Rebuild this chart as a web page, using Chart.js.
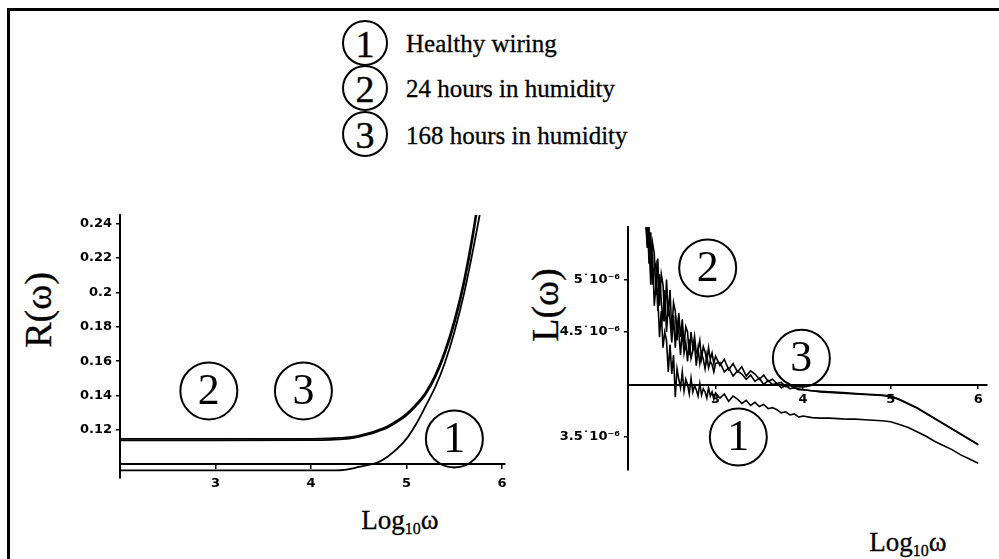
<!DOCTYPE html>
<html><head><meta charset="utf-8">
<script src="https://cdn.jsdelivr.net/npm/chart.js@4"></script>
<style>
html,body{margin:0;padding:0;background:#fff;}
body{width:999px;height:559px;position:relative;overflow:hidden;font-family:"Liberation Serif",serif;color:#000;}
.frame{position:absolute;left:7px;top:8px;width:1000px;height:600px;border-left:3px solid #000;border-top:3px solid #000;}
.lc{position:absolute;width:42px;height:42px;border:2px solid #000;border-radius:50%;text-align:center;line-height:44px;font-size:38px;-webkit-text-stroke:0.4px #000;}
.lt{position:absolute;font-size:25px;line-height:1;transform:translateY(-50%);white-space:nowrap;-webkit-text-stroke:0.3px #000;}
.yt{position:absolute;font-size:38px;line-height:1;transform:translate(-50%,-50%) rotate(-90deg);white-space:nowrap;-webkit-text-stroke:0.3px #000;}
.xt{position:absolute;font-size:27px;line-height:1;transform:translate(-50%,-50%);white-space:nowrap;-webkit-text-stroke:0.3px #000;}
.box{position:absolute;}
sub{font-size:16px;vertical-align:-5px;}
</style></head><body>
<div class="frame"></div>

<div class="lc" style="left:342px;top:20px;">1</div>
<div class="lc" style="left:342px;top:65px;">2</div>
<div class="lc" style="left:342px;top:111px;">3</div>
<div class="lt" style="left:406px;top:43px;">Healthy wiring</div>
<div class="lt" style="left:406px;top:88px;">24 hours in humidity</div>
<div class="lt" style="left:406px;top:135px;">168 hours in humidity</div>

<div class="yt" style="left:38px;top:310px;">R(ω)</div>
<div class="yt" style="left:545px;top:305px;">L(ω)</div>
<div class="xt" style="left:400px;top:522px;">Log<sub>10</sub>ω</div>
<div class="xt" style="left:908px;top:544px;">Log<sub>10</sub>ω</div>

<div class="box" style="left:0px;top:200px;width:520px;height:300px;"><canvas id="cR" width="520" height="300"></canvas></div>
<div class="box" style="left:520px;top:200px;width:479px;height:300px;"><canvas id="cL" width="479" height="300"></canvas></div>

<script>
// ---------- R(ω) panel data ----------
const RX = [2.0, 3.0, 4.0, 4.2, 4.3, 4.4, 4.5, 4.6, 4.7, 4.8, 4.9, 5.0, 5.1, 5.2, 5.3, 5.4, 5.5, 5.6, 5.7, 5.8, 5.9];
const R1 = [0.0965, 0.0965, 0.0965, 0.0965, 0.0966, 0.0972, 0.0985, 0.0997, 0.1012, 0.1045, 0.1090, 0.1150, 0.1235, 0.1340, 0.1450, 0.1590, 0.1770, 0.1990, 0.2260, 0.2560, 0.2900];
const R2 = [0.1148, 0.1148, 0.1149, 0.1151, 0.1154, 0.1158, 0.1168, 0.1182, 0.1200, 0.1222, 0.1255, 0.1295, 0.1350, 0.1420, 0.1520, 0.1660, 0.1840, 0.2070, 0.2370, 0.2750, 0.3200];
const R3 = [0.1140, 0.1140, 0.1141, 0.1143, 0.1146, 0.1150, 0.1160, 0.1174, 0.1192, 0.1214, 0.1246, 0.1286, 0.1340, 0.1408, 0.1506, 0.1642, 0.1818, 0.2044, 0.2340, 0.2720, 0.3160];
const R_XTICKS = [3, 4, 5, 6];
const R_YTICKS = [0.12, 0.14, 0.16, 0.18, 0.2, 0.22, 0.24];
const R_YLABELS = ['0.12', '0.14', '0.16', '0.18', '0.2', '0.22', '0.24'];

// ---------- L(ω) panel data (values in units of 10^-6) ----------
const LX = [2.20,2.22,2.24,2.26,2.28,2.30,2.32,2.34,2.36,2.38,2.40,2.42,2.44,2.46,2.48,2.50,2.52,2.54,2.56,2.58,2.60,2.62,2.64,2.66,2.68,2.70,2.72,2.74,2.76,2.78,2.80,2.82,2.84,2.86,2.88,2.90,2.92,2.94,2.96,2.98,3.00,
  3.05,3.10,3.15,3.20,3.25,3.30,3.35,3.40,3.45,3.50,3.55,3.60,3.65,3.70,3.75,3.80,3.85,3.90,3.95,4.00,
  4.1,4.2,4.3,4.4,4.5,4.6,4.7,4.8,4.9,5.0,5.1,5.2,5.3,5.4,5.5,5.6,5.7,5.8,5.9,6.0];
const L1 = [5.6,5.35,5.4,4.95,5.25,4.75,4.95,4.85,4.45,4.7,4.35,4.5,4.42,4.12,4.38,4.1,4.28,3.88,4.15,4.05,3.97,4.12,3.94,4.05,4.0,3.91,4.06,3.93,3.99,3.95,3.89,4.01,3.9,3.96,3.93,3.87,3.97,3.89,3.93,3.86,3.92,
  3.87,3.91,3.84,3.89,3.86,3.82,3.85,3.8,3.83,3.79,3.81,3.77,3.78,3.76,3.73,3.74,3.71,3.72,3.69,3.7,
  3.685,3.68,3.68,3.675,3.67,3.67,3.665,3.66,3.655,3.645,3.62,3.59,3.55,3.51,3.46,3.42,3.38,3.33,3.29,3.25];
const L2 = [5.6,5.3,5.5,5.05,5.35,5.25,4.85,5.2,4.75,5.05,4.95,4.6,5.0,4.65,4.9,4.5,4.78,4.7,4.42,4.68,4.45,4.62,4.38,4.55,4.5,4.28,4.5,4.35,4.46,4.3,4.33,4.42,4.25,4.36,4.31,4.22,4.35,4.24,4.3,4.2,4.27,
  4.18,4.24,4.14,4.2,4.12,4.17,4.08,4.13,4.1,4.05,4.09,4.03,4.05,4.01,4.02,3.98,3.99,3.97,3.96,3.95,
  3.94,3.935,3.93,3.925,3.92,3.915,3.91,3.905,3.90,3.89,3.86,3.82,3.78,3.73,3.68,3.63,3.58,3.53,3.48,3.43];
const L3 = [5.5,5.6,5.15,5.45,4.95,5.1,5.15,4.7,5.05,4.8,4.6,4.9,4.5,4.75,4.62,4.4,4.66,4.35,4.6,4.5,4.28,4.52,4.3,4.4,4.22,4.43,4.25,4.32,4.38,4.18,4.34,4.2,4.3,4.24,4.15,4.28,4.16,4.22,4.19,4.12,4.2,
  4.21,4.12,4.16,4.08,4.13,4.1,4.05,4.09,4.03,4.06,4.0,4.04,4.0,4.01,3.97,3.99,3.96,3.97,3.95,3.95,
  3.94,3.93,3.925,3.92,3.915,3.91,3.905,3.9,3.895,3.885,3.855,3.815,3.775,3.725,3.675,3.625,3.575,3.525,3.475,3.425];
const L_XTICKS = [3, 4, 5, 6];
const L_YTICKS = [3.5, 4.5, 5];
const L_YLABELS = ['3.5˙10⁻⁶', '4.5˙10⁻⁶', '5˙10⁻⁶'];

Chart.defaults.font.family = '"DejaVu Sans", sans-serif';
Chart.defaults.color = '#000';

const tickFont = {family: '"DejaVu Sans", sans-serif', size: 13, weight: 'bold'};

const circleMarks = {
  id: 'circleMarks',
  afterDatasetsDraw(chart, args, opts) {
    const ctx = chart.ctx, sx = chart.scales.x, sy = chart.scales.y;
    ctx.save();
    ctx.strokeStyle = '#000';
    ctx.fillStyle = '#000';
    ctx.lineWidth = 2;
    ctx.font = '44px "Liberation Serif", serif';
    ctx.textAlign = 'center';
    ctx.textBaseline = 'middle';
    (opts.marks || []).forEach(m => {
      const px = sx.getPixelForValue(m.x), py = sy.getPixelForValue(m.y);
      ctx.beginPath();
      ctx.arc(px, py, 28.5, 0, Math.PI * 2);
      ctx.stroke();
      ctx.fillText(m.n, px, py + 1);
    });
    ctx.restore();
  }
};

function lineDs(xs, ys, opts) {
  return Object.assign({
    data: xs.map((x, i) => ({x: x, y: ys[i]})),
    borderColor: '#000', borderWidth: 1.8, pointRadius: 0, fill: false, clip: 0
  }, opts || {});
}

// ---------- R(ω) chart ----------
new Chart(document.getElementById('cR'), {
  type: 'line',
  data: {datasets: [
    lineDs(RX, R1, {cubicInterpolationMode: 'monotone'}),
    lineDs(RX, R2, {cubicInterpolationMode: 'monotone'}),
    lineDs(RX, R3, {cubicInterpolationMode: 'monotone'})
  ]},
  options: {
    responsive: false, animation: false, devicePixelRatio: 1,
    layout: {padding: {left: 60, top: 15, right: 15, bottom: 22}},
    plugins: {legend: {display: false}, tooltip: {enabled: false},
      circleMarks: {marks: [{n: '2', x: 2.93, y: 0.1427}, {n: '3', x: 3.92, y: 0.1427}, {n: '1', x: 5.5, y: 0.1148}]}},
    scales: {
      x: {type: 'linear', min: 2, max: 6.03, position: {y: 0.1},
        afterBuildTicks: s => { s.ticks = R_XTICKS.map(v => ({value: v})); },
        ticks: {callback: v => String(v), font: tickFont, color: '#000', padding: 7, maxRotation: 0, autoSkip: false},
        grid: {display: true, drawOnChartArea: false, drawTicks: true, tickLength: 4, color: '#000', lineWidth: 1.5},
        border: {display: true, color: '#000', width: 2}},
      y: {type: 'linear', min: 0.0921, max: 0.245, position: 'left',
        afterFit: s => { s.width = 60; },
        afterBuildTicks: s => { s.ticks = R_YTICKS.map(v => ({value: v})); },
        ticks: {callback: (v, i) => R_YLABELS[i], font: tickFont, color: '#000', padding: 4, autoSkip: false},
        grid: {display: true, drawOnChartArea: false, drawTicks: true, tickLength: 4, color: '#000', lineWidth: 1.5},
        border: {display: true, color: '#000', width: 2}}
    }
  },
  plugins: [circleMarks]
});

// ---------- L(ω) chart ----------
new Chart(document.getElementById('cL'), {
  type: 'line',
  data: {datasets: [
    lineDs(LX, L1, {borderWidth: 1.6}),
    lineDs(LX, L2, {borderWidth: 1.6}),
    lineDs(LX, L3, {borderWidth: 1.6})
  ]},
  options: {
    responsive: false, animation: false, devicePixelRatio: 1,
    layout: {padding: {left: 8, top: 27, right: 12, bottom: 30}},
    plugins: {legend: {display: false}, tooltip: {enabled: false},
      circleMarks: {marks: [{n: '2', x: 2.91, y: 5.11}, {n: '3', x: 3.98, y: 4.25}, {n: '1', x: 3.26, y: 3.5}]}},
    scales: {
      x: {type: 'linear', min: 2, max: 6.1, position: {y: 4},
        afterBuildTicks: s => { s.ticks = L_XTICKS.map(v => ({value: v})); },
        ticks: {callback: v => String(v), font: tickFont, color: '#000', padding: 4, maxRotation: 0, autoSkip: false},
        grid: {display: true, drawOnChartArea: false, drawTicks: true, tickLength: 3, color: '#000', lineWidth: 1.5},
        border: {display: true, color: '#000', width: 2}},
      y: {type: 'linear', min: 3.186, max: 5.5, position: 'left',
        afterFit: s => { s.width = 100; },
        afterBuildTicks: s => { s.ticks = L_YTICKS.map(v => ({value: v})); },
        ticks: {callback: (v, i) => L_YLABELS[i], font: tickFont, color: '#000', padding: 4, autoSkip: false},
        grid: {display: true, drawOnChartArea: false, drawTicks: true, tickLength: 4, color: '#000', lineWidth: 1.5},
        border: {display: true, color: '#000', width: 2}}
    }
  },
  plugins: [circleMarks]
});
</script>
</body></html>
